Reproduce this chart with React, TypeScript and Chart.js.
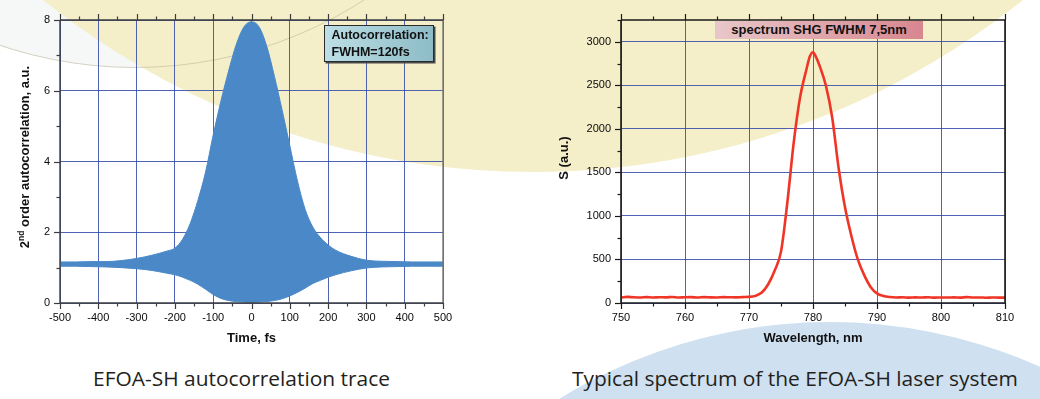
import React, { useEffect, useRef } from 'react';
import { Chart, registerables } from 'chart.js';
Chart.register(...registerables);

// ---------- Autocorrelation trace (envelopes of the fringe-resolved trace) ----------
const AC_TIME = [-500, -460, -420, -380, -340, -300, -260, -220, -200, -180, -160, -140, -120, -100, -80, -60, -40, -20, 0, 20, 40, 60, 80, 100, 120, 140, 160, 180, 200, 220, 260, 300, 340, 380, 420, 460, 500];
const AC_UPPER = [1.16, 1.16, 1.17, 1.17, 1.2, 1.26, 1.35, 1.47, 1.55, 1.8, 2.25, 2.9, 3.7, 4.75, 5.7, 6.55, 7.3, 7.8, 7.95, 7.8, 7.25, 6.4, 5.45, 4.45, 3.45, 2.65, 2.15, 1.85, 1.64, 1.49, 1.32, 1.21, 1.18, 1.17, 1.16, 1.16, 1.16];
const AC_LOWER = [1.04, 1.04, 1.03, 1.02, 1.0, 0.97, 0.92, 0.84, 0.8, 0.73, 0.64, 0.53, 0.39, 0.24, 0.13, 0.07, 0.04, 0.03, 0.02, 0.03, 0.04, 0.07, 0.12, 0.2, 0.3, 0.42, 0.55, 0.64, 0.73, 0.8, 0.91, 0.99, 1.02, 1.03, 1.04, 1.04, 1.04];
const AC_X_TICKS = [-500, -400, -300, -200, -100, 0, 100, 200, 300, 400, 500];
const AC_X_MINOR = [-450, -350, -250, -150, -50, 50, 150, 250, 350, 450];
const AC_Y_TICKS = [0, 2, 4, 6, 8];
const AC_Y_MINOR = [1, 3, 5, 7];

// ---------- SHG spectrum ----------
const WL = [750, 751, 752, 753, 754, 755, 756, 757, 758, 759, 760, 761, 762, 763, 764, 765, 766, 767, 768, 769, 770, 771, 772, 773, 774, 775, 776, 777, 778, 779, 779.5, 780, 780.5, 781, 782, 783, 784, 785, 786, 787, 788, 789, 790, 791, 792, 793, 794, 795, 796, 797, 798, 799, 800, 801, 802, 803, 804, 805, 806, 807, 808, 809, 810];
const SPEC = [62, 70, 66, 64, 68, 63, 66, 65, 69, 64, 66, 67, 63, 68, 65, 64, 67, 66, 65, 68, 70, 82, 120, 215, 370, 590, 1160, 1850, 2370, 2690, 2830, 2880, 2820, 2730, 2500, 2130, 1550, 1100, 770, 500, 320, 185, 110, 80, 68, 64, 66, 62, 65, 63, 66, 62, 64, 63, 65, 62, 68, 63, 64, 61, 63, 62, 62];
const SP_X_TICKS = [750, 760, 770, 780, 790, 800, 810];
const SP_X_MINOR = [755, 765, 775, 785, 795, 805];
const SP_Y_TICKS = [0, 500, 1000, 1500, 2000, 2500, 3000];
const SP_Y_MINOR = [250, 750, 1250, 1750, 2250, 2750, 3250];

const FONT = '"Liberation Sans", Arial, Helvetica, sans-serif';
const GRID = 'rgba(48,72,168,0.85)';

type Part = { text: string; sup?: boolean };
type FrameCfg = {
  xMajor: number[]; xMinor: number[]; yMajor: number[]; yMinor: number[];
  axisColor: string; rightColor: string; axisWidth: number;
  majorLen: number; minorLen: number;
  xTitle: string; xTitleBaseline: number;
  yTitle: Part[]; yTitleX: number; yTitleY: number;
};

function framePlugin(c: FrameCfg) {
  return {
    id: 'frame',
    afterDraw(chart: any) {
      const { ctx, chartArea: a } = chart;
      const xs = chart.scales.x;
      const ys = chart.scales.y;
      ctx.save();
      const seg = (x1: number, y1: number, x2: number, y2: number) => {
        ctx.beginPath(); ctx.moveTo(x1, y1); ctx.lineTo(x2, y2); ctx.stroke();
      };
      ctx.strokeStyle = c.axisColor;
      ctx.lineWidth = 1.2;
      const xt = (vals: number[], len: number) => {
        for (const v of vals) {
          const px = Math.round(xs.getPixelForValue(v)) + 0.5;
          seg(px, a.bottom, px, a.bottom + len);
          seg(px, a.top, px, a.top - len);
        }
      };
      const yt = (vals: number[], len: number) => {
        for (const v of vals) {
          const py = Math.round(ys.getPixelForValue(v)) + 0.5;
          seg(a.left - len, py, a.left, py);
        }
      };
      xt(c.xMajor, c.majorLen); xt(c.xMinor, c.minorLen);
      yt(c.yMajor, c.majorLen); yt(c.yMinor, c.minorLen);
      ctx.lineWidth = c.axisWidth;
      ctx.strokeStyle = c.rightColor;
      seg(a.right, a.top, a.right, a.bottom);
      ctx.strokeStyle = c.axisColor;
      seg(a.left, a.top, a.left, a.bottom);
      seg(a.left, a.top, a.right, a.top);
      seg(a.left, a.bottom, a.right, a.bottom);
      // titles
      ctx.fillStyle = '#111';
      ctx.textBaseline = 'alphabetic';
      ctx.font = 'bold 13px ' + FONT;
      ctx.textAlign = 'center';
      ctx.fillText(c.xTitle, (a.left + a.right) / 2, c.xTitleBaseline);
      ctx.translate(c.yTitleX, c.yTitleY);
      ctx.rotate(-Math.PI / 2);
      ctx.textAlign = 'left';
      const fontFor = (p: Part) => (p.sup ? 'bold 8.5px ' : 'bold 13px ') + FONT;
      let total = 0;
      for (const p of c.yTitle) { ctx.font = fontFor(p); total += ctx.measureText(p.text).width; }
      let x = -total / 2;
      for (const p of c.yTitle) {
        ctx.font = fontFor(p);
        ctx.fillText(p.text, x, p.sup ? -5 : 0);
        x += ctx.measureText(p.text).width;
      }
      ctx.restore();
    },
  };
}

function baseScales(xMin: number, xMax: number, yMin: number, yMax: number, xTicks: number[], yTicks: number[], yWidth: number, xHeight: number) {
  const tickFont = { family: FONT, size: 11 };
  return {
    x: {
      type: 'linear', min: xMin, max: xMax,
      afterBuildTicks: (s: any) => { s.ticks = xTicks.map((v) => ({ value: v })); },
      afterFit: (s: any) => { s.height = xHeight; },
      ticks: { font: tickFont, color: '#0a0a0a', padding: 8, maxRotation: 0, autoSkip: false, callback: (v: any) => String(v) },
      grid: { color: GRID, lineWidth: 1, drawTicks: false },
      border: { display: false },
    },
    y: {
      type: 'linear', min: yMin, max: yMax,
      afterBuildTicks: (s: any) => { s.ticks = yTicks.map((v) => ({ value: v })); },
      afterFit: (s: any) => { s.width = yWidth; },
      ticks: { font: tickFont, color: '#0a0a0a', padding: 10, autoSkip: false, callback: (v: any) => String(v) },
      grid: { color: GRID, lineWidth: 1, drawTicks: false },
      border: { display: false },
    },
  };
}

export default function App() {
  const leftRef = useRef<HTMLCanvasElement>(null);
  const rightRef = useRef<HTMLCanvasElement>(null);
  const cap1 = useRef<HTMLSpanElement>(null);
  const cap2 = useRef<HTMLSpanElement>(null);

  useEffect(() => {
    const fit = (el: HTMLSpanElement | null, target: number) => {
      if (!el) return;
      el.style.transform = 'none';
      const w = el.getBoundingClientRect().width;
      if (w > 0) el.style.transform = `scaleX(${target / w})`;
    };
    fit(cap1.current, 297);
    fit(cap2.current, 446);

    const c1 = new Chart(leftRef.current as HTMLCanvasElement, {
      type: 'line',
      data: {
        datasets: [
          {
            data: AC_TIME.map((t, i) => ({ x: t, y: AC_LOWER[i] })),
            borderColor: '#4a88c7', borderWidth: 1, pointRadius: 0, fill: false,
            cubicInterpolationMode: 'monotone',
          },
          {
            data: AC_TIME.map((t, i) => ({ x: t, y: AC_UPPER[i] })),
            borderColor: '#4a88c7', borderWidth: 1, pointRadius: 0,
            backgroundColor: '#4a88c7', fill: '-1',
            cubicInterpolationMode: 'monotone',
          },
        ],
      } as any,
      options: {
        responsive: false, animation: false, devicePixelRatio: 1,
        layout: { padding: { left: 0, right: 77, top: 20, bottom: 0 } },
        plugins: { legend: { display: false }, tooltip: { enabled: false } },
        scales: baseScales(-500, 500, 0, 8, AC_X_TICKS, AC_Y_TICKS, 60, 47) as any,
      },
      plugins: [framePlugin({
        xMajor: AC_X_TICKS, xMinor: AC_X_MINOR, yMajor: AC_Y_TICKS, yMinor: AC_Y_MINOR,
        axisColor: '#3c3c3c', rightColor: '#777', axisWidth: 1.4, majorLen: 6, minorLen: 3.5,
        xTitle: 'Time, fs', xTitleBaseline: 342,
        yTitle: [{ text: '2' }, { text: 'nd', sup: true }, { text: ' order autocorrelation, a.u.' }],
        yTitleX: 28.5, yTitleY: 157,
      })],
    });

    const c2 = new Chart(rightRef.current as HTMLCanvasElement, {
      type: 'line',
      data: {
        datasets: [
          {
            data: WL.map((w, i) => ({ x: w, y: SPEC[i] })),
            borderColor: '#ef3526', borderWidth: 2.6, pointRadius: 0, fill: false,
            cubicInterpolationMode: 'monotone',
          },
        ],
      } as any,
      options: {
        responsive: false, animation: false, devicePixelRatio: 1,
        layout: { padding: { left: 0, right: 35, top: 20, bottom: 0 } },
        plugins: { legend: { display: false }, tooltip: { enabled: false } },
        scales: baseScales(750, 810, 0, 3250, SP_X_TICKS, SP_Y_TICKS, 101, 47) as any,
      },
      plugins: [framePlugin({
        xMajor: SP_X_TICKS, xMinor: SP_X_MINOR, yMajor: SP_Y_TICKS, yMinor: SP_Y_MINOR,
        axisColor: '#1a1a1a', rightColor: '#1a1a1a', axisWidth: 1.6, majorLen: 6, minorLen: 3.5,
        xTitle: 'Wavelength, nm', xTitleBaseline: 342,
        yTitle: [{ text: 'S (a.u.)' }],
        yTitleX: 47.5, yTitleY: 158,
      })],
    });

    return () => { c1.destroy(); c2.destroy(); };
  }, []);

  const abs = (o: React.CSSProperties): React.CSSProperties => ({ position: 'absolute', ...o });
  const captionStyle: React.CSSProperties = {
    position: 'absolute', top: 369, whiteSpace: 'nowrap', display: 'inline-block',
    fontFamily: '"Open Sans", "Noto Sans", sans-serif', fontSize: '19.5px', lineHeight: '20px',
    color: '#231f20', transformOrigin: 'left top',
  };

  return (
    <div style={{ position: 'absolute', left: 0, top: 0, width: 1040, height: 399, overflow: 'hidden', background: '#ffffff' }}>
      {/* decorative background */}
      <div style={abs({ left: 135 - 423, top: -355 - 423, width: 846, height: 846, borderRadius: '50%', background: '#f6f7f7' })} />
      <div style={abs({ left: 533 - 784, top: -612 - 784, width: 1568, height: 1568, borderRadius: '50%', background: '#f4eec9' })} />
      <div style={abs({ left: 135 - 423, top: -355 - 423, width: 846, height: 846, borderRadius: '50%', border: '1px solid rgba(185,178,150,0.55)', boxSizing: 'border-box' })} />
      <div style={abs({ left: 830 - 515, top: 837 - 515, width: 1030, height: 1030, borderRadius: '50%', background: '#cfe0f1' })} />

      <canvas ref={leftRef} width={520} height={350} style={abs({ left: 0, top: 0, width: 520, height: 350 })} />
      <canvas ref={rightRef} width={520} height={350} style={abs({ left: 520, top: 0, width: 520, height: 350 })} />

      {/* annotation boxes */}
      <div style={abs({
        left: 324, top: 25, width: 110, height: 37, boxSizing: 'border-box',
        border: '1px solid #2b2b2b', boxShadow: '1.5px 1.5px 0 #4a4a4a',
        background: 'linear-gradient(to right, #bddee5, #8dbcc7)',
      })}>
        <div style={abs({ left: 6.5, top: 0.5, fontFamily: FONT, fontWeight: 'bold', fontSize: '12.5px', lineHeight: '17px', color: '#111', whiteSpace: 'nowrap' })}>
          <div>Autocorrelation:</div>
          <div>FWHM=120fs</div>
        </div>
      </div>
      <div style={abs({
        left: 715, top: 21, width: 208, height: 18,
        background: 'linear-gradient(to right, #e8c7ca, #d8868f)',
        fontFamily: FONT, fontWeight: 'bold', fontSize: '13px', lineHeight: '18px', color: '#111',
        textAlign: 'center', whiteSpace: 'nowrap',
      })}>spectrum SHG FWHM 7,5nm</div>

      {/* captions */}
      <span ref={cap1} style={{ ...captionStyle, left: 93 }}>EFOA-SH autocorrelation trace</span>
      <span ref={cap2} style={{ ...captionStyle, left: 572 }}>Typical spectrum of the EFOA-SH laser system</span>
    </div>
  );
}
